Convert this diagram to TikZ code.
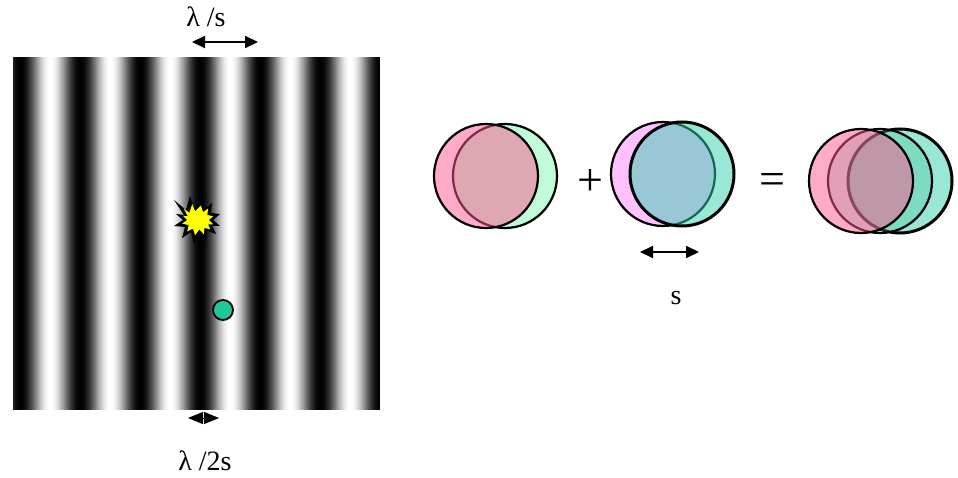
\documentclass[tikz,border=0pt]{standalone}
\usepackage{fontspec}
\setmainfont{Liberation Serif}
\usetikzlibrary{arrows.meta}

\definecolor{pinkA}{RGB}{255,85,145}
\definecolor{mintA}{RGB}{192,250,216}
\definecolor{lilacA}{RGB}{255,192,255}
\definecolor{tealA}{RGB}{51,209,173}
\definecolor{tealM}{RGB}{60,190,150}
\definecolor{dotgreen}{RGB}{30,200,155}
\definecolor{burstyellow}{RGB}{255,255,0}

\begin{document}
\begin{tikzpicture}[x=1pt,y=-1pt,
  disc/.style={line width=2.2pt, draw=black},
  thickdisc/.style={line width=3pt, draw=black},
  dimarrow/.style={line width=2pt,
    {Triangle[length=13pt,width=12pt]}-{Triangle[length=13pt,width=12pt]}},
  shortarrow/.style={line width=1pt,
    {Triangle[length=15pt,width=12pt]}-{Triangle[length=15pt,width=12pt]}},
  lbl/.style={font=\fontsize{28}{28}\selectfont, inner sep=0pt},
  op/.style={font=\fontsize{46}{46}\selectfont, inner sep=0pt}]
\useasboundingbox (0,0) rectangle (958,478);

% interference fringes: intensity cos^2, period 60
\begin{scope}
  \clip (13,57) rectangle (380,410);
  \foreach \i in {0,...,366}{
    \pgfmathsetmacro\v{100*(cos(3*(\i+13-50)))^2}
    \fill[white!\v!black] (13+\i,57) rectangle (14.4+\i,410);
  }
\end{scope}

% burst on a dark fringe
\begin{scope}[shift={(198,220)}]
  \fill[black] (-24,-20) -- (-12,-10) -- (-8,-24) -- (-4,-12) -- (4,-22)
    -- (7,-11) -- (14,-17) -- (13,-7) -- (22,-6) -- (15,0) -- (22,6)
    -- (14,6) -- (18,14) -- (9,11) -- (8,22) -- (2,13) -- (-4,24)
    -- (-7,12) -- (-16,18) -- (-13,7) -- (-24,6) -- (-15,0) -- (-22,-6)
    -- (-14,-5) -- cycle;
  \begin{scope}[scale=0.72]
  \fill[burstyellow] (-20,-16) -- (-12,-10) -- (-8,-22) -- (-4,-12) -- (4,-20)
    -- (7,-11) -- (14,-16) -- (13,-7) -- (21,-5) -- (15,0) -- (21,6)
    -- (14,6) -- (17,13) -- (9,11) -- (8,20) -- (2,13) -- (-4,21)
    -- (-7,12) -- (-15,16) -- (-13,7) -- (-22,5) -- (-15,0) -- (-21,-6)
    -- (-14,-5) -- cycle;
  \end{scope}
\end{scope}

% detector dot
\node[circle, fill=dotgreen, draw=black, line width=1.8pt,
      minimum size=20pt, inner sep=0pt] (dot) at (223,310) {};

% fringe spacing markers
\node[lbl] (lamS) at (206,17) {λ /s};
\coordinate (a1) at (192,42);
\coordinate (a2) at (258,42);
\draw[dimarrow] (a1) -- (a2);

\node[lbl] (lamTwoS) at (205,461) {λ /2s};
\coordinate (h1) at (188,418);
\coordinate (h2) at (219,418);
\draw[shortarrow] (h1) -- (h2);

% first pair of discs
\path[disc, fill=mintA] (505,176) circle[radius=52];
\path[disc, fill=pinkA, fill opacity=0.5] (486,176) circle[radius=52];

\node[op] (plus) at (590,183) {+};

% second pair of discs
\path[disc, fill=lilacA] (663,174) circle[radius=52];
\path[thickdisc, fill=tealA, fill opacity=0.5] (682,174) circle[radius=52];

\coordinate (s1) at (640,252);
\coordinate (s2) at (699,252);
\draw[dimarrow] (s1) -- (s2);
\node[lbl] (sLbl) at (676,298) {s};

\node[op] (eq) at (772,184) {=};

% combined discs
\path[thickdisc, fill=tealA, fill opacity=0.5] (900,181) circle[radius=52];
\path[disc, fill=tealM, fill opacity=0.3] (880,181) circle[radius=52];
\path[disc, fill=pinkA, fill opacity=0.5] (861,181) circle[radius=52];
\end{tikzpicture}
\end{document}
